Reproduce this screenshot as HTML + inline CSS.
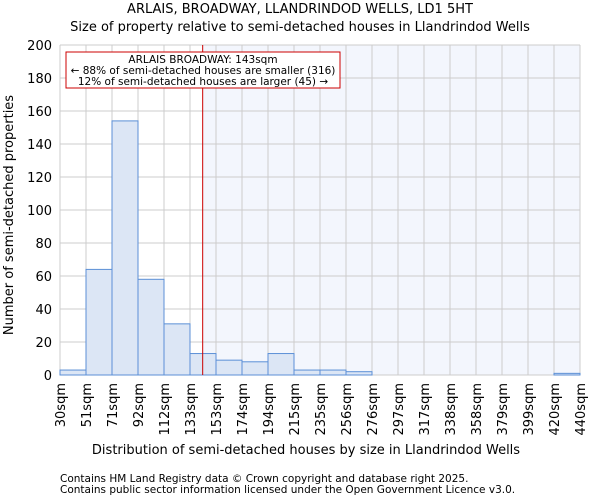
<!DOCTYPE html>
<html><head><meta charset="utf-8"><style>
body{margin:0;background:#fff;font-family:"DejaVu Sans","Liberation Sans",sans-serif;}
</style></head><body>
<svg width="600" height="500" xmlns="http://www.w3.org/2000/svg" font-family="DejaVu Sans, Liberation Sans, sans-serif">
<text x="300" y="13" text-anchor="middle" font-size="13">ARLAIS, BROADWAY, LLANDRINDOD WELLS, LD1 5HT</text>
<text x="300" y="31" text-anchor="middle" font-size="13">Size of property relative to semi-detached houses in Llandrindod Wells</text>
<g id="plot"></g>
<text x="306" y="454" text-anchor="middle" font-size="13">Distribution of semi-detached houses by size in Llandrindod Wells</text>
<text transform="translate(13,215) rotate(-90)" text-anchor="middle" font-size="13">Number of semi-detached properties</text>
<text x="60" y="482" font-size="10.5">Contains HM Land Registry data © Crown copyright and database right 2025.</text>
<text x="60" y="493" font-size="10.5">Contains public sector information licensed under the Open Government Licence v3.0.</text>
</svg>
<script>
const labels=["30sqm","51sqm","71sqm","92sqm","112sqm","133sqm","153sqm","174sqm","194sqm","215sqm","235sqm","256sqm","276sqm","297sqm","317sqm","338sqm","358sqm","379sqm","399sqm","420sqm","440sqm"];
const counts=[3,64,154,58,31,13,9,8,13,3,3,2,0,0,0,0,0,0,0,1];
const yTicks=[0,20,40,60,80,100,120,140,160,180,200];
const propertyBin=5+10/20.5;
const X0=60,X1=580,Y0=375,Y1=45;
const bw=(X1-X0)/counts.length;
const xs=i=>X0+i*bw, ys=v=>Y0-(v/200)*(Y0-Y1);
const NS="http://www.w3.org/2000/svg";
const g=document.getElementById('plot');
function el(t,a,p){const e=document.createElementNS(NS,t);for(const k in a)e.setAttribute(k,a[k]);(p||g).appendChild(e);return e;}
const px=xs(propertyBin);
let r=el('rect',{x:px,y:Y1,width:X1-px,height:Y0-Y1,fill:'#f3f6fd'});


yTicks.forEach(v=>{let l=el('line',{x1:X0,x2:X1,y1:ys(v),y2:ys(v),stroke:'#cccccc'});


let t=el('text',{x:X0-8,y:ys(v)+5,'text-anchor':'end','font-size':13});t.textContent=v;

});
labels.forEach((s,i)=>{let l=el('line',{x1:xs(i),x2:xs(i),y1:Y1,y2:Y0,stroke:'#cccccc'});


let t=el('text',{transform:`translate(${xs(i)+5},${Y0+8}) rotate(-90)`,'text-anchor':'end','font-size':13});t.textContent=s;

});
counts.forEach((v,i)=>{if(v<=0)return;let b=el('rect',{x:xs(i),y:ys(v),width:bw,height:Y0-ys(v),fill:'#dce6f5',stroke:'#5b8fd6','stroke-width':1});

});
let rl=el('line',{x1:px,x2:px,y1:Y1,y2:Y0,stroke:'#cc0000','stroke-width':1});


let ab=el('rect',{x:66,y:52,width:274,height:36,fill:'#fff',stroke:'#cc0000'});


["ARLAIS BROADWAY: 143sqm","← 88% of semi-detached houses are smaller (316)","12% of semi-detached houses are larger (45) →"].forEach((s,i)=>{
let t=el('text',{x:203,y:63+i*11,'text-anchor':'middle','font-size':10.5});t.textContent=s;

});
</script>
</body></html>
